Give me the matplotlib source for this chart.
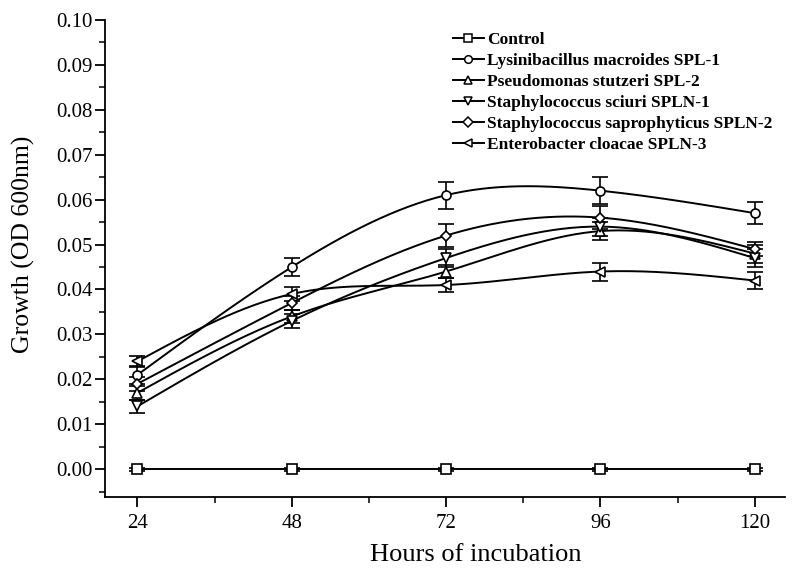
import numpy as np
import matplotlib
matplotlib.use("Agg")
import matplotlib.pyplot as plt
from matplotlib.ticker import MultipleLocator

plt.rcParams['font.family'] = ['Liberation Serif', 'DejaVu Serif']

hours = [24, 48, 72, 96, 120]

labels = [
    "Control",
    "Lysinibacillus macroides SPL-1",
    "Pseudomonas stutzeri SPL-2",
    "Staphylococcus sciuri SPLN-1",
    "Staphylococcus saprophyticus SPLN-2",
    "Enterobacter cloacae SPLN-3",
]
markers = ["s", "o", "^", "v", "D", "<"]

control = [0.0, 0.0, 0.0, 0.0, 0.0]
lysini = [0.021, 0.045, 0.061, 0.062, 0.057]
pseudo = [0.017, 0.034, 0.044, 0.053, 0.048]
sciuri = [0.014, 0.033, 0.047, 0.054, 0.047]
sapro = [0.019, 0.037, 0.052, 0.056, 0.049]
entero = [0.024, 0.039, 0.041, 0.044, 0.042]

control_err = [0.0003, 0.0003, 0.0003, 0.0003, 0.0003]
lysini_err = [0.002, 0.002, 0.003, 0.003, 0.0025]
pseudo_err = [0.0015, 0.0015, 0.0015, 0.002, 0.002]
sciuri_err = [0.0015, 0.0015, 0.002, 0.002, 0.002]
sapro_err = [0.0015, 0.0015, 0.0025, 0.0025, 0.0015]
entero_err = [0.0012, 0.0015, 0.0015, 0.002, 0.002]

series = [control, lysini, pseudo, sciuri, sapro, entero]
errors = [control_err, lysini_err, pseudo_err, sciuri_err, sapro_err, entero_err]


def natural_spline(x, y, n=200):
    # plain natural cubic spline, only used to draw the smooth connecting line
    x = np.asarray(x, float)
    y = np.asarray(y, float)
    k = len(x)
    h = np.diff(x)
    A = np.zeros((k, k))
    b = np.zeros(k)
    A[0, 0] = A[-1, -1] = 1.0
    for i in range(1, k - 1):
        A[i, i - 1] = h[i - 1]
        A[i, i] = 2 * (h[i - 1] + h[i])
        A[i, i + 1] = h[i]
        b[i] = 3 * ((y[i + 1] - y[i]) / h[i] - (y[i] - y[i - 1]) / h[i - 1])
    c = np.linalg.solve(A, b)
    xs = np.linspace(x[0], x[-1], n)
    ys = np.empty_like(xs)
    for j, xv in enumerate(xs):
        i = min(np.searchsorted(x, xv, side="right") - 1, k - 2)
        dx = xv - x[i]
        bi = (y[i + 1] - y[i]) / h[i] - h[i] * (2 * c[i] + c[i + 1]) / 3
        di = (c[i + 1] - c[i]) / (3 * h[i])
        ys[j] = y[i] + bi * dx + c[i] * dx ** 2 + di * dx ** 3
    return xs, ys


fig = plt.figure(figsize=(8.1, 5.7), dpi=100)
ax = fig.add_axes([0.13, 0.128, 0.839, 0.837])

for lab, mk, vals, err in zip(labels, markers, series, errors):
    xs, ys = natural_spline(hours, vals)
    ax.plot(xs, ys, color="black", lw=1.4, zorder=2)
    ax.errorbar(hours, vals, yerr=err, fmt="none", ecolor="black",
                elinewidth=1.2, capsize=6, capthick=1.2, zorder=3)
    ax.plot(hours, vals, linestyle="none", marker=mk, ms=6.5 if mk != "D" else 5.5,
            mfc="white", mec="black", mew=1.2, zorder=4)
    # legend proxy
    ax.plot([], [], color="black", lw=1.4, marker=mk,
            ms=5.5 if mk != "D" else 5, mfc="white", mec="black", mew=1.1,
            label=lab)

ax.set_xlim(19, 124.7)
ax.set_ylim(-0.0062, 0.1)
ax.set_xticks(hours)
ax.xaxis.set_minor_locator(MultipleLocator(12))
ax.yaxis.set_major_locator(MultipleLocator(0.01))
ax.yaxis.set_minor_locator(MultipleLocator(0.005))
ax.yaxis.set_major_formatter(plt.FormatStrFormatter("%.2f"))

for s in ["top", "right"]:
    ax.spines[s].set_visible(False)
for s in ["left", "bottom"]:
    ax.spines[s].set_linewidth(1.3)

ax.tick_params(which="major", direction="out", length=7, width=1.3,
               labelsize=15)
ax.tick_params(which="minor", direction="out", length=4, width=1.1)
ax.tick_params(axis="x", pad=5)
ax.tick_params(axis="y", pad=2)

ax.set_xlabel("Hours of incubation", fontsize=19)
ax.set_ylabel("Growth (OD 600nm)", fontsize=18.5)
ax.xaxis.set_label_coords(0.545, -0.098)
ax.yaxis.set_label_coords(-0.104, 0.53)

leg = ax.legend(loc="upper right", bbox_to_anchor=(1.0, 1.0), frameon=False,
                prop={"weight": "bold", "size": 12.5}, handlelength=1.8,
                handletextpad=0.2, labelspacing=0.28, borderaxespad=0.3)

fig.savefig("out.png", dpi=100)
